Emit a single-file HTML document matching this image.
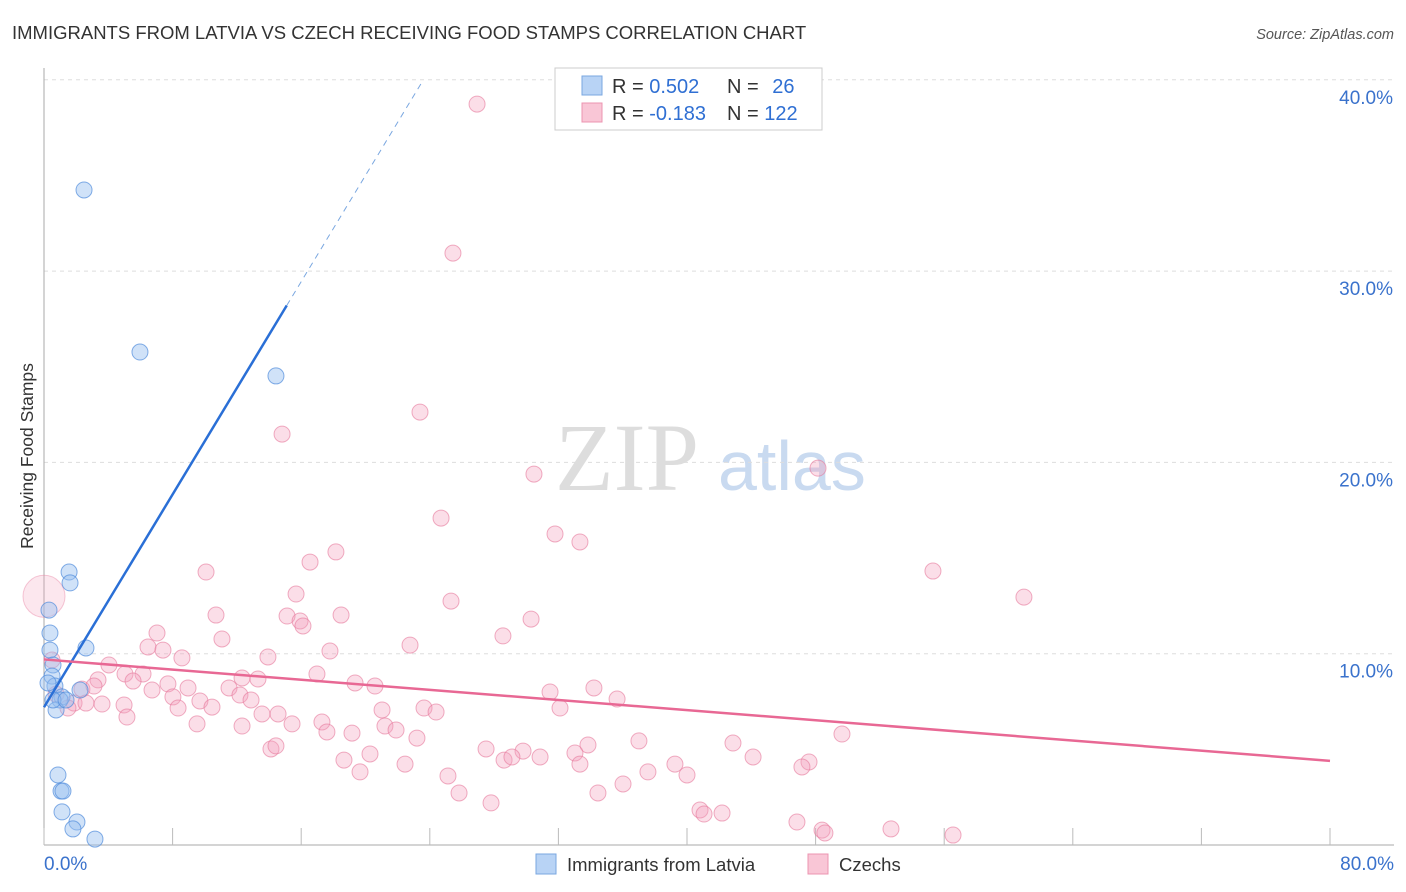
<!DOCTYPE html>
<html><head><meta charset="utf-8"><style>
body{margin:0;background:#fff;font-family:"Liberation Sans",sans-serif}
svg{display:block}
</style></head><body>
<svg id="c" width="1406" height="892">
<text x="12" y="39" font-size="18.5" fill="#333">IMMIGRANTS FROM LATVIA VS CZECH RECEIVING FOOD STAMPS CORRELATION CHART</text>
<text x="1394" y="39" font-size="14.5" fill="#555" text-anchor="end" font-style="italic">Source: ZipAtlas.com</text>
<text x="0" y="0" transform="translate(33,456) rotate(-90)" font-size="17.5" fill="#333" text-anchor="middle">Receiving Food Stamps</text>
<g><text x="555" y="490" font-size="96" font-family="Liberation Serif,serif" fill="#ddd">ZIP</text><text x="718" y="490" font-size="70" fill="#c9daf0">atlas</text></g>
<g id="grid"></g><g id="axes"></g><g id="pts"></g><g id="lines"></g>
<g>
<rect x="555" y="68" width="267" height="62" fill="#fff" stroke="#ccc"/>
<rect x="582" y="76" width="20" height="19" fill="#b8d3f5" stroke="#7aa7e0"/>
<rect x="582" y="103" width="20" height="19" fill="#f9c6d6" stroke="#ec94b0"/>
<text x="612" y="93" font-size="20" fill="#333">R = <tspan fill="#2f6fd3">0.502</tspan></text>
<text x="727" y="93" font-size="20" fill="#333">N = <tspan fill="#2f6fd3" dx="8">26</tspan></text>
<text x="612" y="120" font-size="20" fill="#333">R = <tspan fill="#2f6fd3">-0.183</tspan></text>
<text x="727" y="120" font-size="20" fill="#333">N = <tspan fill="#2f6fd3">122</tspan></text>
</g>
<g>
<rect x="536" y="854" width="20" height="20" fill="#b8d3f5" stroke="#7aa7e0"/>
<text x="567" y="871" font-size="18.5" fill="#333">Immigrants from Latvia</text>
<rect x="808" y="854" width="20" height="20" fill="#f9c6d6" stroke="#ec94b0"/>
<text x="839" y="871" font-size="18.5" fill="#333">Czechs</text>
</g>
</svg>
<script>
const xTicks=[0,8,16,24,32,40,48,56,64,72,80];
const xLabels=[0,80];
const yTicks=[10,20,30,40];
const blueX=[2.49,5.97,14.43,1.56,1.62,0.31,0.37,2.61,0.37,0.56,0.50,0.68,2.24,1.12,1.00,0.75,0.87,1.06,1.18,1.12,2.05,1.80,3.17,0.25,0.56,1.37];
const blueY=[34.24,25.77,24.52,14.27,13.70,12.28,11.08,10.30,10.19,9.41,8.83,8.31,8.10,7.74,7.58,7.06,3.66,2.82,2.82,1.73,1.20,0.84,0.31,8.47,7.58,7.58];
const pinkX=[26.94,25.44,23.39,14.81,48.15,30.48,24.70,31.79,33.34,10.08,55.30,16.55,18.16,15.68,60.96,25.32,10.70,15.12,18.48,15.93,16.11,30.30,7.03,28.55,11.07,22.77,6.47,7.40,17.79,8.58,13.93,4.04,0.50,5.04,6.16,16.98,12.32,13.31,3.36,5.54,19.35,20.59,7.71,8.96,11.51,2.36,31.48,34.21,35.65,6.72,12.19,3.11,0.75,1.87,2.61,3.61,8.02,9.70,10.45,12.88,14.56,4.98,1.49,8.34,21.03,23.64,24.39,32.10,5.16,13.56,17.29,9.52,12.32,15.43,17.60,19.16,21.21,21.90,23.20,37.01,42.86,49.64,14.12,14.43,27.50,29.80,33.84,33.03,18.66,20.28,28.62,29.11,30.86,33.34,44.11,47.59,47.15,22.46,39.25,19.66,25.13,37.57,40.00,36.02,25.82,34.46,27.81,40.81,41.06,42.18,46.84,48.40,48.58,52.69,56.55];
const pinkY=[38.73,30.94,22.63,21.48,19.70,19.39,17.09,16.26,15.84,14.27,14.32,14.79,15.32,13.12,12.96,12.75,12.02,11.97,12.02,11.71,11.45,11.81,11.08,10.93,10.77,10.45,10.35,10.19,10.14,9.78,9.83,9.41,9.67,8.94,8.94,8.94,8.73,8.68,8.63,8.57,8.47,8.31,8.42,8.21,8.21,8.15,8.00,8.21,7.63,8.10,7.84,8.31,7.89,7.42,7.42,7.37,7.74,7.53,7.21,7.58,6.85,7.32,7.16,7.16,7.06,7.16,6.95,7.16,6.69,6.85,6.43,6.33,6.22,6.33,5.91,5.85,6.22,6.01,5.59,5.44,5.33,5.80,5.02,5.18,5.02,4.91,5.23,4.81,4.44,4.76,4.44,4.60,4.60,4.23,4.60,4.34,4.08,4.23,4.23,3.82,3.61,3.82,3.66,3.19,2.72,2.72,2.20,1.83,1.62,1.67,1.20,0.78,0.63,0.84,0.52];
const pinkBig=[0,13.0];
const blueLineX=[0,15.1,23.6];
const blueLineY=[7.2,28.2,40.0];
const pinkLineX=[0,80];
const pinkLineY=[9.7,4.4];
const X=v=>44+v*16.075, Y=v=>845-v*19.13;
const NS='http://www.w3.org/2000/svg';
function mk(p,t,a){const e=document.createElementNS(NS,t);for(const k in a)e.setAttribute(k,a[k]);p.appendChild(e);return e;}
const grid=document.getElementById('grid'),axes=document.getElementById('axes'),pts=document.getElementById('pts'),lines=document.getElementById('lines');
yTicks.forEach(t=>{const l=mk(grid,'line',{x1:44,x2:1394,y1:Y(t),y2:Y(t),stroke:'#ddd','stroke-dasharray':'4,4'});


const tx=mk(axes,'text',{x:1393,y:Y(t)+24,'font-size':19,fill:'#3a72cc','text-anchor':'end'});tx.textContent=t.toFixed(1)+'%';

});
const ax=mk(axes,'line',{x1:44,x2:44,y1:68,y2:845,stroke:'#aaa'});


const bx=mk(axes,'line',{x1:44,x2:1394,y1:845,y2:845,stroke:'#aaa'});


xTicks.forEach(t=>{const l=mk(axes,'line',{x1:X(t),x2:X(t),y1:828,y2:845,stroke:'#bbb'});

});
xLabels.forEach((t,i)=>{const tx=mk(axes,'text',{x:i?1394:44,y:870,'font-size':19,fill:'#3a72cc','text-anchor':i?'end':'start'});tx.textContent=t.toFixed(1)+'%';

});
const big=mk(pts,'circle',{cx:X(pinkBig[0]),cy:Y(pinkBig[1]),r:21,fill:'rgba(244,160,188,0.25)',stroke:'rgba(230,120,155,0.4)'});


pinkX.forEach((v,i)=>{const c=mk(pts,'circle',{cx:X(v),cy:Y(pinkY[i]),r:8,fill:'rgba(244,160,188,0.35)',stroke:'rgba(230,120,155,0.6)'});

});
blueX.forEach((v,i)=>{const c=mk(pts,'circle',{cx:X(v),cy:Y(blueY[i]),r:8,fill:'rgba(150,190,240,0.45)',stroke:'rgba(80,140,220,0.7)'});

});
const b1=mk(lines,'line',{x1:X(blueLineX[0]),y1:Y(blueLineY[0]),x2:X(blueLineX[1]),y2:Y(blueLineY[1]),stroke:'#2a6fd6','stroke-width':2.5});


const b2=mk(lines,'line',{x1:X(blueLineX[1]),y1:Y(blueLineY[1]),x2:X(blueLineX[2]),y2:Y(blueLineY[2]),stroke:'#7aa7e0','stroke-width':1,'stroke-dasharray':'6,5'});


const p1=mk(lines,'line',{x1:X(pinkLineX[0]),y1:Y(pinkLineY[0]),x2:X(pinkLineX[1]),y2:Y(pinkLineY[1]),stroke:'#e86894','stroke-width':2.5});


</script>
</body></html>
